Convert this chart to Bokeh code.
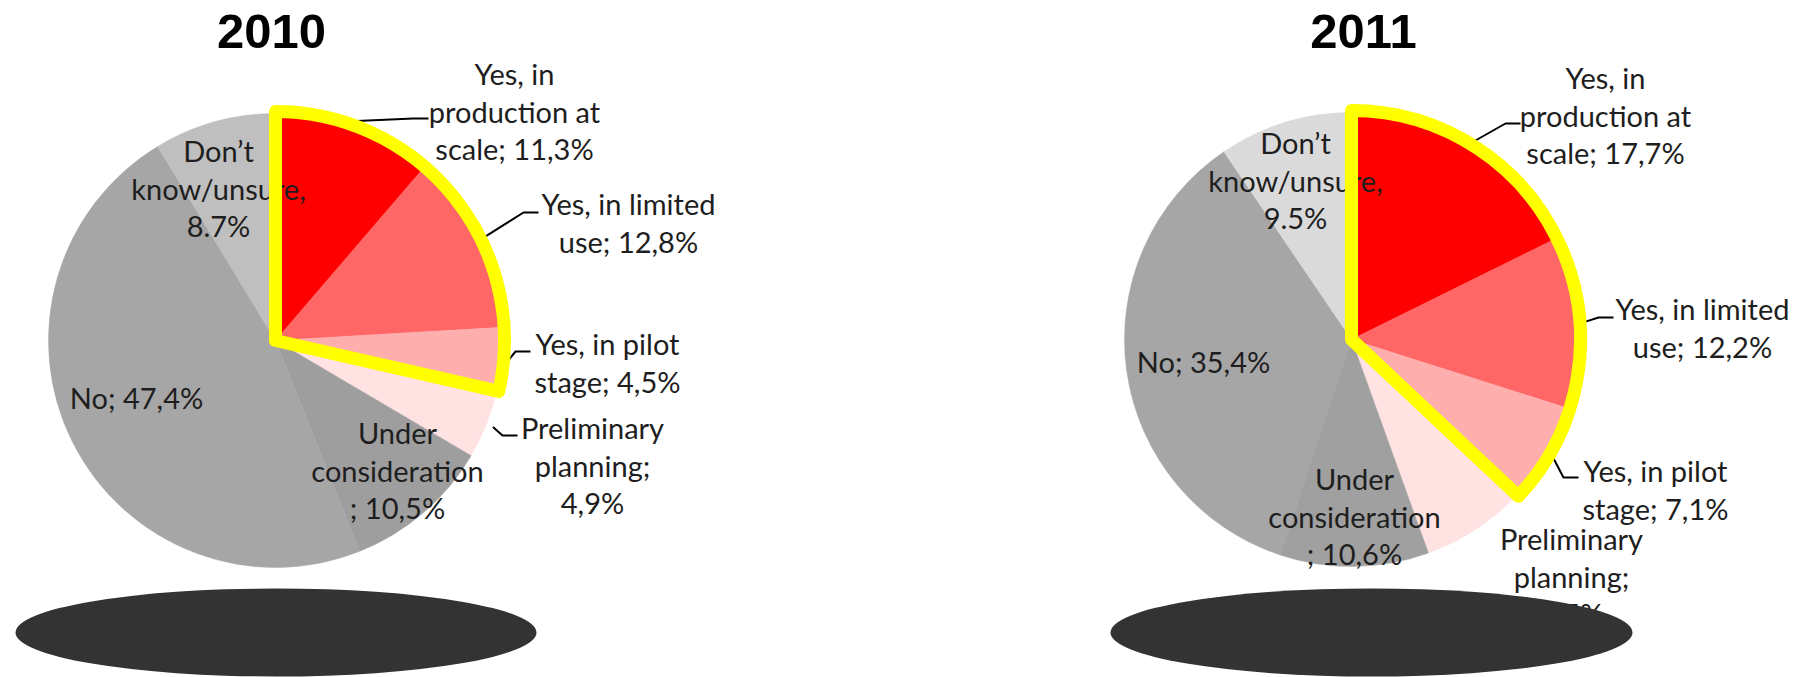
import math
from bokeh.plotting import figure
from bokeh.models import Range1d, ColumnDataSource
from bokeh.core.properties import value
from bokeh.embed import file_html
from bokeh.resources import INLINE

# ---------------- data ----------------
years = ["2010", "2011"]
categories = ["Yes, in production at scale", "Yes, in limited use", "Yes, in pilot stage",
              "Preliminary planning", "Under consideration", "No", "Don't know/unsure"]
values_2010 = [11.3, 12.8, 4.5, 4.9, 10.5, 47.4, 8.7]
values_2011 = [17.7, 12.2, 7.1, 7.5, 10.6, 35.4, 9.5]
# label text per category (line templates); value inserted with comma decimals except the last
label_templates = [
    ["Yes, in", "production at", "scale; {v}%"],
    ["Yes, in limited", "use; {v}%"],
    ["Yes, in pilot", "stage; {v}%"],
    ["Preliminary", "planning;", "{v}%"],
    ["Under", "consideration", "; {v}%"],
    ["No; {v}%"],
    ["Don\u2019t", "know/unsure,", "{v}%"],
]
decimal_marks = [",", ",", ",", ",", ",", ",", "."]
highlight_count = 3  # the "Yes" slices outlined in yellow

# ---------------- style / layout ----------------
colors_2010 = ["#FF0000", "#FF6666", "#FFAEAE", "#FFE2E2", "#9E9E9E", "#A6A6A6", "#BFBFBF"]
colors_2011 = ["#FF0000", "#FF6666", "#FFAEAE", "#FFE2E2", "#A0A0A0", "#A6A6A6", "#DADADA"]

layout = {
    "2010": dict(
        center=(275, 340), radius=227, title=(271, 31),
        shadow=(275.5, 632, 521, 88),
        labels=[(514, 73), (628, 203), (607, 343), (592, 427), (397, 432), (136, 397), (218, 150)],
        anchors=[(428, 118), (538, 212), (530, 351), (517, 435), None, None, None],
    ),
    "2011": dict(
        center=(1351, 339), radius=227, title=(1363, 31),
        shadow=(1371, 632, 522, 88),
        labels=[(1605, 77), (1702, 308), (1655, 470), (1571, 538), (1354, 478), (1203, 361), (1295, 142)],
        anchors=[(1520, 123), (1613, 317), (1578, 477), None, None, None, None],
    ),
}
LINE_H = 37.5
FONT = "Lato"
FONT_SIZE = "29px"
TEXT_COLOR = "#1e1e1e"

W, H = 1805, 677
p = figure(width=W, height=H, x_range=Range1d(0, W), y_range=Range1d(-H, 0),
           output_backend="svg", toolbar_location=None, min_border=0,
           x_axis_type=None, y_axis_type=None, outline_line_color=None,
           background_fill_color="white", border_fill_color="white")
p.grid.visible = False

year_values = {"2010": values_2010, "2011": values_2011}
year_colors = {"2010": colors_2010, "2011": colors_2011}

def ang(frac):
    return math.pi / 2 - 2 * math.pi * frac

text_x, text_y, text_s = [], [], []
lead_xs, lead_ys = [], []
out_x, out_y, out_r, out_s, out_e = [], [], [], [], []

for yr in years:
    vals = year_values[yr]
    L = layout[yr]
    cx, cy = L["center"]
    R = L["radius"]
    total = sum(vals)
    cum = [0.0]
    for v in vals:
        cum.append(cum[-1] + v / total)
    src = ColumnDataSource(dict(
        x=[cx] * len(vals), y=[-cy] * len(vals),
        start=[ang(c) for c in cum[:-1]], end=[ang(c) for c in cum[1:]],
        color=year_colors[yr]))
    p.wedge(x="x", y="y", radius=R, start_angle="start", end_angle="end",
            direction="clock", fill_color="color", line_color="color", line_width=0.5,
            source=src)

    # labels
    for i, v in enumerate(vals):
        vs = f"{v:.1f}".replace(".", decimal_marks[i])
        lx, ly = L["labels"][i]
        for j, line in enumerate(label_templates[i]):
            text_x.append(lx)
            text_y.append(-(ly + j * LINE_H))
            text_s.append(line.format(v=vs))
        anc = L["anchors"][i]
        if anc is not None:
            mid = ang((cum[i] + cum[i + 1]) / 2)
            sx = cx + (R + 7) * math.cos(mid)
            sy = cy - (R + 7) * math.sin(mid)
            ax, ay = anc
            lead_xs.append([sx, ax - 15, ax])
            lead_ys.append([-sy, -ay, -ay])

    # yellow outline around the highlighted "Yes" slices
    out_x.append(cx); out_y.append(-cy); out_r.append(R + 2)
    out_s.append(ang(0.0)); out_e.append(ang(cum[highlight_count]))

    # title
    tx, ty = L["title"]
    p.text(x=[tx], y=[-ty], text=[yr], text_font=value("Liberation Sans"),
           text_font_style="bold", text_font_size="49px", text_align="center",
           text_baseline="middle", text_color="black")

p.text(x=text_x, y=text_y, text=text_s, text_font=value(FONT), text_font_size=FONT_SIZE,
       text_align="center", text_baseline="middle", text_color=TEXT_COLOR)
p.multi_line(xs=lead_xs, ys=lead_ys, line_color="black", line_width=2)

p.wedge(x=out_x, y=out_y, radius=out_r, start_angle=out_s, end_angle=out_e,
        direction="clock", fill_color=None, line_color="#FFFF00", line_width=13,
        line_join="round")

for yr in years:
    ex, ey, ew, eh = layout[yr]["shadow"]
    p.ellipse(x=[ex], y=[-ey], width=ew, height=eh, fill_color="#333333", line_color=None)

open("out.html", "w").write(file_html(p, INLINE))
